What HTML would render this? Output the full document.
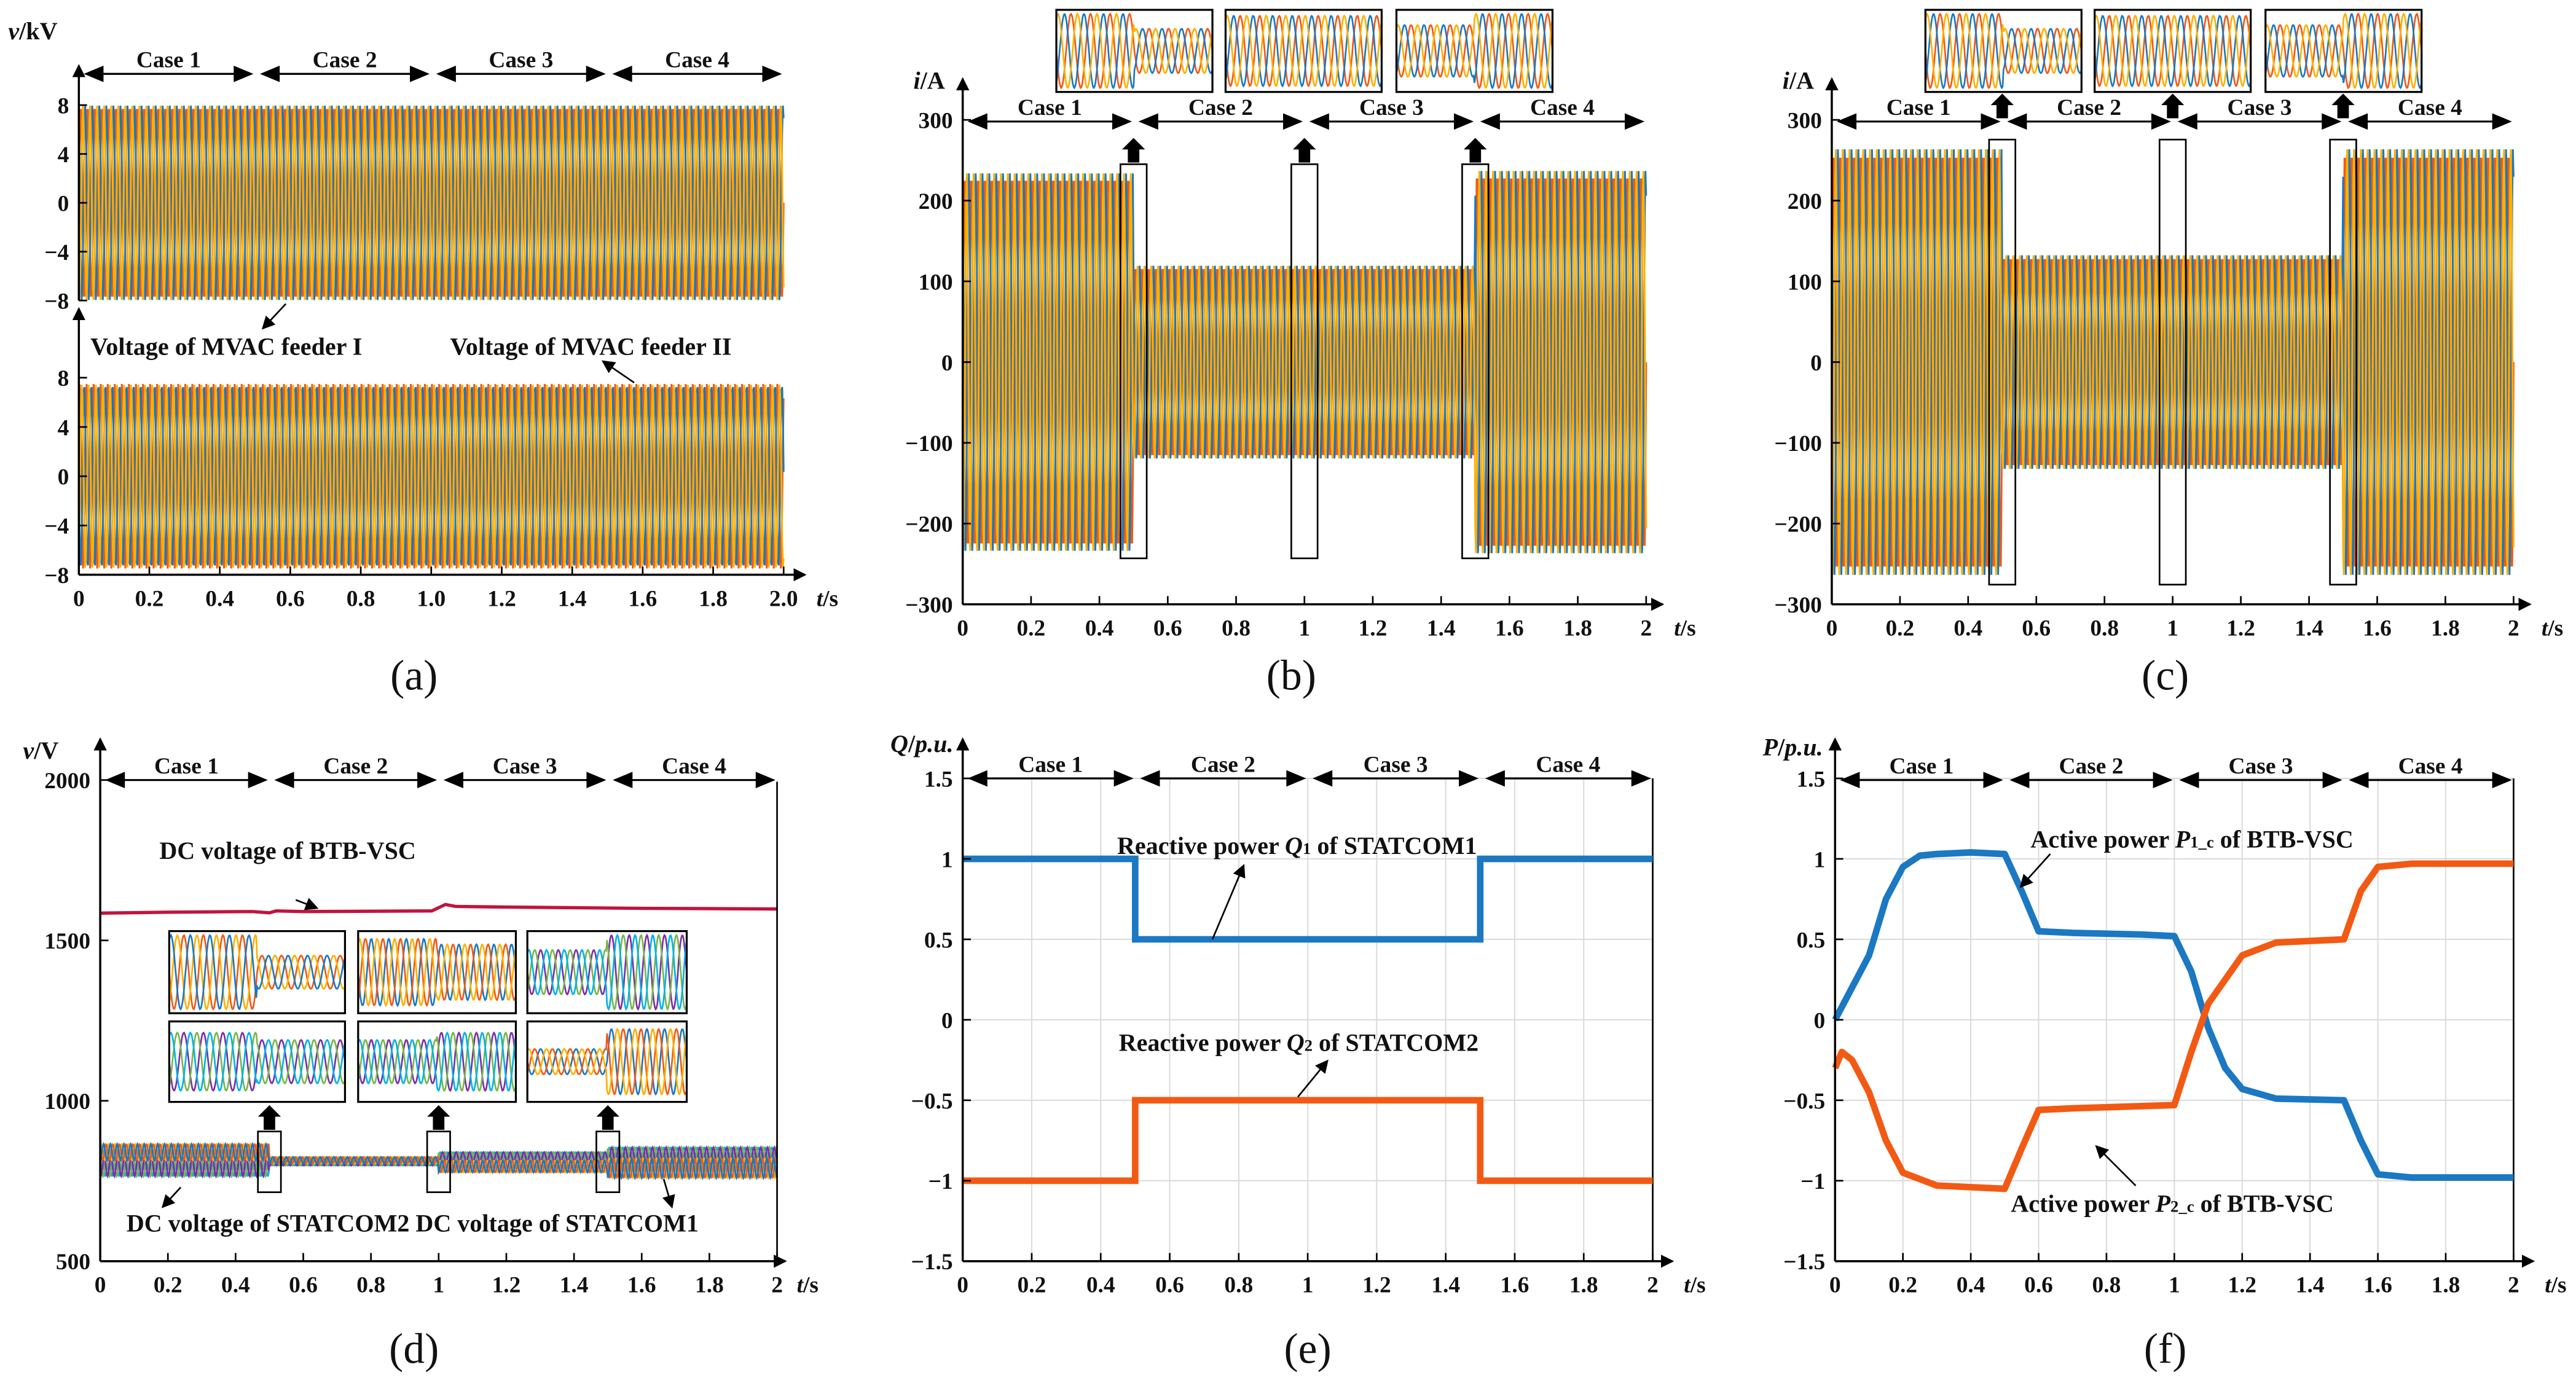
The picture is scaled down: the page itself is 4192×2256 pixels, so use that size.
<!DOCTYPE html>
<html><head><meta charset="utf-8"><style>
html,body{margin:0;padding:0;background:#fff}
svg{display:block}
text{font-family:"Liberation Serif",serif;font-weight:bold;fill:#111}
text.pl{font-weight:normal}
</style></head><body>
<svg id="fig" xmlns="http://www.w3.org/2000/svg" width="4192" height="2256" viewBox="0 0 1568 844" preserveAspectRatio="none">
<defs>
<marker id="ah" markerWidth="8" markerHeight="8" refX="7" refY="4" orient="auto" markerUnits="userSpaceOnUse"><path d="M0,0 L8,4 L0,8 z" fill="#000"/></marker>
</defs>
<g id="root"></g>
</svg>
<script>
// ---------- data ----------
const caseNames = ["Case 1","Case 2","Case 3","Case 4"];
const caseBounds = [0, 0.5, 1.0, 1.5, 2.0];
const aTicksX = ["0","0.2","0.4","0.6","0.8","1.0","1.2","1.4","1.6","1.8","2.0"];
const bTicksX = ["0","0.2","0.4","0.6","0.8","1","1.2","1.4","1.6","1.8","2"];
const aTicksY = [8,4,0,-4,-8];
const bTicksY = [300,200,100,0,-100,-200,-300];
const dTicksY = [2000,1500,1000,500];
const eTicksY = [1.5,1,0.5,0,-0.5,-1,-1.5];
const aFeeder1Amp = [8,8,8,8];
const aFeeder2Amp = [7.5,7.5,7.5,7.5];
const bCurrentAmp = [235,120,120,238];
const cCurrentAmp = [265,133,133,265];
const dBtbTimes = [0,0.2,0.45,0.5,0.52,0.6,0.98,1.02,1.05,1.2,1.6,2.0];
const dBtbVals  = [1585,1588,1590,1586,1592,1590,1592,1612,1606,1604,1600,1598];
const dStat1Center = [840,815,795,790];
const dStat1Amp = [25,10,18,30];
const dStat2Center = [795,808,825,830];
const dStat2Amp = [30,10,15,25];
const eQ1 = [1,0.5,0.5,1];
const eQ2 = [-1,-0.5,-0.5,-1];
const fTimes1 = [0,0.05,0.1,0.15,0.2,0.25,0.3,0.4,0.5,0.55,0.6,0.7,0.9,1.0,1.05,1.1,1.15,1.2,1.3,1.5,1.55,1.6,1.7,2.0];
const fP1 = [0,0.2,0.4,0.75,0.95,1.02,1.03,1.04,1.03,0.8,0.55,0.54,0.53,0.52,0.3,-0.05,-0.3,-0.43,-0.49,-0.5,-0.75,-0.96,-0.98,-0.98];
const fTimes2 = [0,0.02,0.05,0.1,0.15,0.2,0.3,0.5,0.55,0.6,0.7,1.0,1.05,1.1,1.2,1.3,1.5,1.55,1.6,1.7,2.0];
const fP2 = [-0.3,-0.2,-0.25,-0.45,-0.75,-0.95,-1.03,-1.05,-0.8,-0.56,-0.55,-0.53,-0.2,0.1,0.4,0.48,0.5,0.8,0.95,0.97,0.97];

const NS="http://www.w3.org/2000/svg";
const root=document.getElementById('root');
function el(tag,attrs,parent){const e=document.createElementNS(NS,tag);for(const k in attrs)e.setAttribute(k,attrs[k]);(parent||root).appendChild(e);return e;}
function txt(s,x,y,size,parent,anchor){const t=el('text',{x:x,y:y,'font-size':size,'text-anchor':anchor||'middle'},parent);t.textContent=s;return t;}
const C3=["#f25a14","#1b78c2","#ffb000"];
function caseAt(t){for(let i=0;i<4;i++){if(t<caseBounds[i+1])return i;}return 3;}

function axisFns(x0,x1,tmax,y0v,y0,y1v,y1){
  return {X:t=>x0+(x1-x0)*t/tmax, Y:v=>y0+(y1-y0)*(v-y0v)/(y1v-y0v)};
}
function waveBand(g,ax,amps,center,freq,phase,color,sw,ptsPerCycle){
  let d="";const N=Math.round(2*freq*ptsPerCycle);
  for(let i=0;i<=N;i++){const t=2*i/N;const a=amps[caseAt(t)];const v=center+a*Math.sin(2*Math.PI*freq*t+phase);d+=(i?"L":"M")+ax.X(t).toFixed(2)+","+ax.Y(v).toFixed(2);}
  el('path',{d:d,fill:'none',stroke:color,'stroke-width':sw},g);
}
function caseHeader(g,ax,y){
  for(let i=0;i<4;i++){
    const xa=ax.X(caseBounds[i])+3,xb=ax.X(caseBounds[i+1])-1;
    const ln=el('line',{x1:xa+8,y1:y,x2:xb-8,y2:y,stroke:'#000','stroke-width':1.2},g);
    
    
    el('path',{d:`M${xa},${y} L${xa+12},${y-5} L${xa+12},${y+5}z`,fill:'#000'},g);
    el('path',{d:`M${xb},${y} L${xb-12},${y-5} L${xb-12},${y+5}z`,fill:'#000'},g);
    const t=txt(caseNames[i],(xa+xb)/2,y-4,14,g);
    
    
  }
}
function xAxis(g,ax,y,labels,xend){
  el('line',{x1:ax.X(0),y1:y,x2:xend,y2:y,stroke:'#000','stroke-width':1.3,'marker-end':'url(#ah)'},g);
  labels.forEach((s,i)=>{const x=ax.X(i*0.2);el('line',{x1:x,y1:y,x2:x,y2:y-5,stroke:'#000','stroke-width':1},g);
    const t=txt(s,x,y+19,14,g);});
  const ts=el('text',{x:xend+7,y:y+19,'font-size':14,'text-anchor':'start'},g);
  ts.innerHTML='<tspan font-style="italic">t</tspan>/s';
  
}
function yAxis(g,x,ybot,ytop,vals,ax,fmt){
  el('line',{x1:x,y1:ybot,x2:x,y2:ytop,stroke:'#000','stroke-width':1.3,'marker-end':'url(#ah)'},g);
  vals.forEach(v=>{const y=ax.Y(v);el('line',{x1:x,y1:y,x2:x+5,y2:y,stroke:'#000','stroke-width':1},g);
    const t=txt(fmt?fmt(v):(v<0?"\u2212"+(-v):String(v)),x-6,y+5,14,g,'end');});
}
function arrowLine(g,x1,y1,x2,y2){el('line',{x1:x1,y1:y1,x2:x2,y2:y2,stroke:'#000','stroke-width':1,'marker-end':'url(#ah)'},g);}
function bigUp(g,x,ytop){el('path',{d:`M${x},${ytop} L${x+7},${ytop+7} L${x+3.5},${ytop+7} L${x+3.5},${ytop+15} L${x-3.5},${ytop+15} L${x-3.5},${ytop+7} L${x-7},${ytop+7}z`,fill:'#000'},g);}
function panelLabel(s,x,y){const t=el('text',{x:x,y:y,'font-size':26,'text-anchor':'middle','class':'pl'});t.textContent=s;}
function inset(g,x,y,w,h,colors,ampL,ampR,freq,name){
  const gi=el('g',{},g);
  colors.forEach((c,k)=>{let d="";for(let i=0;i<=200;i++){const f=i/200;const a=(f<0.5?ampL:ampR)*h*0.45;const v=y+h/2+a*Math.sin(2*Math.PI*freq*f+k*2.094);d+=(i?"L":"M")+(x+f*w).toFixed(1)+","+v.toFixed(1);}
    el('path',{d:d,fill:'none',stroke:c,'stroke-width':1},gi);});
  el('rect',{x:x,y:y,width:w,height:h,fill:'none',stroke:'#000','stroke-width':1.2},gi);
}

// ---------- (a) ----------
{const g=el('g',{});
 const top=axisFns(48,477,2,8,64,-8,183), bot=axisFns(48,477,2,8,230,-8,350);
 [0,1,2].forEach(k=>waveBand(g,top,aFeeder1Amp,0,50,k*2.094,C3[k],1.1,10));
 [0,1,2].forEach(k=>waveBand(g,bot,aFeeder2Amp,0,50,k*2.094+1,C3[k],1.1,10));
 yAxis(g,48,183,40,aTicksY,top);
 yAxis(g,48,350,188,aTicksY,bot);
 xAxis(g,bot,350,aTicksX,490);
 const yl=el('text',{x:5,y:24,'font-size':15,'text-anchor':'start'},g);yl.innerHTML='<tspan font-style="italic">v</tspan>/kV';
 
 caseHeader(g,top,45);
 txt("Voltage of MVAC feeder I",55,216,15,g,'start');
 txt("Voltage of MVAC feeder II",274,216,15,g,'start');
 arrowLine(g,174,185,160,200); arrowLine(g,386,233,367,220);
 panelLabel("(a)",252,420);}

// ---------- (b) & (c) ----------
function currentPanel(name,x0,x1,amps,boxes,insetXs,arrowTop,boxY,lbl,lblX){
 const g=el('g',{});
 const ax=axisFns(x0,x1,2,300,73,-300,368);
 [0,1,2].forEach(k=>waveBand(g,ax,amps,0,50,k*2.094,C3[k],1.1,10));
 yAxis(g,x0,368,48,bTicksY,ax);
 xAxis(g,ax,368,bTicksX,x1+10);
 const yl=el('text',{x:x0-30,y:54,'font-size':15,'text-anchor':'start'},g);yl.innerHTML='<tspan font-style="italic">i</tspan>/A';
 
 caseHeader(g,ax,74);
 boxes.forEach((t,i)=>{const bx=ax.X(t);const r=el('rect',{x:bx-8,y:boxY[0],width:16,height:boxY[1]-boxY[0],fill:'none',stroke:'#000','stroke-width':1},g);
   bigUp(g,bx,arrowTop);});
 insetXs.forEach((x,i)=>inset(g,x,6,95,50,C3,i==0?1:(i==1?0.95:0.7),i==0?0.6:(i==1?0.95:1),8,'inset-waveform'));
 panelLabel(lbl,lblX,420);
}
currentPanel('panel-b',586,1002,bCurrentAmp,[0.5,1.0,1.5],[643,746,850],84,[100,340],"(b)",786);
currentPanel('panel-c',1115,1530,cCurrentAmp,[0.5,1.0,1.5],[1172,1275,1379],57,[85,356],"(c)",1318);

// ---------- (d) ----------
{const g=el('g',{});
 const ax=axisFns(61,473,2,2000,475,500,768);
 const cs1=["#ffb000","#f25a14","#1b78c2"], cs2=["#00b4e6","#7ab648","#7b2fa8"];
 for(let k=0;k<3;k++){let d="";const N=1000;for(let i=0;i<=N;i++){const t=2*i/N;const c=caseAt(t);const v=dStat2Center[c]+dStat2Amp[c]*Math.sin(2*Math.PI*50*t+k*2.094);d+=(i?"L":"M")+ax.X(t).toFixed(2)+","+ax.Y(v).toFixed(2);}
   el('path',{d:d,fill:'none',stroke:cs2[k],'stroke-width':1.1},g);}
 for(let k=0;k<3;k++){let d="";const N=1000;for(let i=0;i<=N;i++){const t=2*i/N;const c=caseAt(t);const v=dStat1Center[c]+dStat1Amp[c]*Math.sin(2*Math.PI*50*t+k*2.094+0.5);d+=(i?"L":"M")+ax.X(t).toFixed(2)+","+ax.Y(v).toFixed(2);}
   el('path',{d:d,fill:'none',stroke:cs1[k],'stroke-width':1.1},g);}
 let d="";dBtbTimes.forEach((t,i)=>{d+=(i?"L":"M")+ax.X(t).toFixed(2)+","+ax.Y(dBtbVals[i]).toFixed(2);});
 const bl=el('path',{d:d,fill:'none',stroke:'#c0143c','stroke-width':2},g);
 yAxis(g,61,768,450,dTicksY,ax);
 el('line',{x1:473,y1:768,x2:473,y2:476,stroke:'#000','stroke-width':1},g);
 xAxis(g,ax,768,bTicksX,478);
 const yl=el('text',{x:14,y:462,'font-size':15,'text-anchor':'start'},g);yl.innerHTML='<tspan font-style="italic">v</tspan>/V';
 
 caseHeader(g,ax,475);
 [0.5,1.0,1.5].forEach(t=>{const bx=ax.X(t);el('rect',{x:bx-7,y:689,width:14,height:37,fill:'none',stroke:'#000','stroke-width':1},g);bigUp(g,bx,673);});
 const ix=[103,218,321],iw=[107,96,97];
 inset(g,ix[0],567,iw[0],50,["#f25a14","#ffb000","#1b78c2"],1,0.45,9,'inset-dc-1');
 inset(g,ix[1],567,iw[1],50,["#1b78c2","#f25a14","#ffb000"],0.9,0.75,9,'inset-dc-2');
 inset(g,ix[2],567,iw[2],50,["#7b2fa8","#7ab648","#00b4e6"],0.6,1,9,'inset-dc-3');
 inset(g,ix[0],622,iw[0],49,["#7b2fa8","#7ab648","#00b4e6"],0.8,0.6,9,'inset-dc-4');
 inset(g,ix[1],622,iw[1],49,["#7b2fa8","#7ab648","#00b4e6"],0.6,0.8,9,'inset-dc-5');
 inset(g,ix[2],622,iw[2],49,["#1b78c2","#f25a14","#ffb000"],0.35,0.9,9,'inset-dc-6');
 txt("DC voltage of BTB-VSC",97,523,15,g,'start');
 arrowLine(g,180,548,193,553);
 txt("DC voltage of STATCOM2 DC voltage of STATCOM1",77,750,15,g,'start');
 arrowLine(g,110,723,99,735); arrowLine(g,404,718,409,735);
 panelLabel("(d)",252,830);}

// ---------- (e) ----------
function gridPanel(g,ax,x0,x1){
 eTicksY.forEach(v=>el('line',{x1:x0,y1:ax.Y(v),x2:x1,y2:ax.Y(v),stroke:'#dcdcdc','stroke-width':0.8},g));
 bTicksX.forEach((s,i)=>el('line',{x1:ax.X(i*0.2),y1:474,x2:ax.X(i*0.2),y2:768,stroke:'#dcdcdc','stroke-width':0.8},g));
 el('line',{x1:x1,y1:768,x2:x1,y2:474,stroke:'#000','stroke-width':1},g);
}
{const g=el('g',{});
 const ax=axisFns(586,1006,2,1.5,474,-1.5,768);
 gridPanel(g,ax,586,1006);
 [[eQ1,"#1b78c2","q1-line"],[eQ2,"#f25a14","q2-line"]].forEach(([arr,c,n])=>{
  let d="";arr.forEach((v,i)=>{d+=(i?"L":"M")+ax.X(caseBounds[i]).toFixed(2)+","+ax.Y(v).toFixed(2)+"L"+ax.X(caseBounds[i+1]).toFixed(2)+","+ax.Y(v).toFixed(2);});
  const p=el('path',{d:d,fill:'none',stroke:c,'stroke-width':4},g);});
 yAxis(g,586,768,450,eTicksY,ax);
 xAxis(g,ax,768,bTicksX,1018);
 const yl=el('text',{x:542,y:458,'font-size':15,'text-anchor':'start'},g);yl.innerHTML='<tspan font-style="italic">Q</tspan>/<tspan font-style="italic">p.u.</tspan>';
 
 caseHeader(g,ax,474);
 const a1=el('text',{x:680,y:520,'font-size':15,'text-anchor':'start'},g);a1.innerHTML='Reactive power <tspan font-style="italic">Q</tspan><tspan font-size="10">1</tspan> of STATCOM1';
 const a2=el('text',{x:681,y:640,'font-size':15,'text-anchor':'start'},g);a2.innerHTML='Reactive power <tspan font-style="italic">Q</tspan><tspan font-size="10">2</tspan> of STATCOM2';
 arrowLine(g,738,572,757,527); arrowLine(g,790,668,808,646);
 panelLabel("(e)",796,830);}

// ---------- (f) ----------
{const g=el('g',{});
 const ax=axisFns(1117,1530,2,1.5,474,-1.5,768);
 gridPanel(g,ax,1117,1530);
 [[fTimes1,fP1,"#1b78c2","p1-line"],[fTimes2,fP2,"#f25a14","p2-line"]].forEach(([ts,vs,c,n])=>{
  let d="";ts.forEach((t,i)=>{d+=(i?"L":"M")+ax.X(t).toFixed(2)+","+ax.Y(vs[i]).toFixed(2);});
  const p=el('path',{d:d,fill:'none',stroke:c,'stroke-width':4,'stroke-linejoin':'round'},g);});
 yAxis(g,1117,768,450,eTicksY,ax);
 xAxis(g,ax,768,bTicksX,1542);
 const yl=el('text',{x:1073,y:460,'font-size':15,'text-anchor':'start'},g);yl.innerHTML='<tspan font-style="italic">P</tspan>/<tspan font-style="italic">p.u.</tspan>';
 
 caseHeader(g,ax,475);
 const a1=el('text',{x:1236,y:516,'font-size':15,'text-anchor':'start'},g);a1.innerHTML='Active power <tspan font-style="italic">P</tspan><tspan font-size="10">1_c</tspan> of BTB-VSC';
 const a2=el('text',{x:1224,y:738,'font-size':15,'text-anchor':'start'},g);a2.innerHTML='Active power <tspan font-style="italic">P</tspan><tspan font-size="10">2_c</tspan> of BTB-VSC';
 arrowLine(g,1248,520,1230,540); arrowLine(g,1300,722,1276,698);
 panelLabel("(f)",1318,830);}
</script>
</body></html>
